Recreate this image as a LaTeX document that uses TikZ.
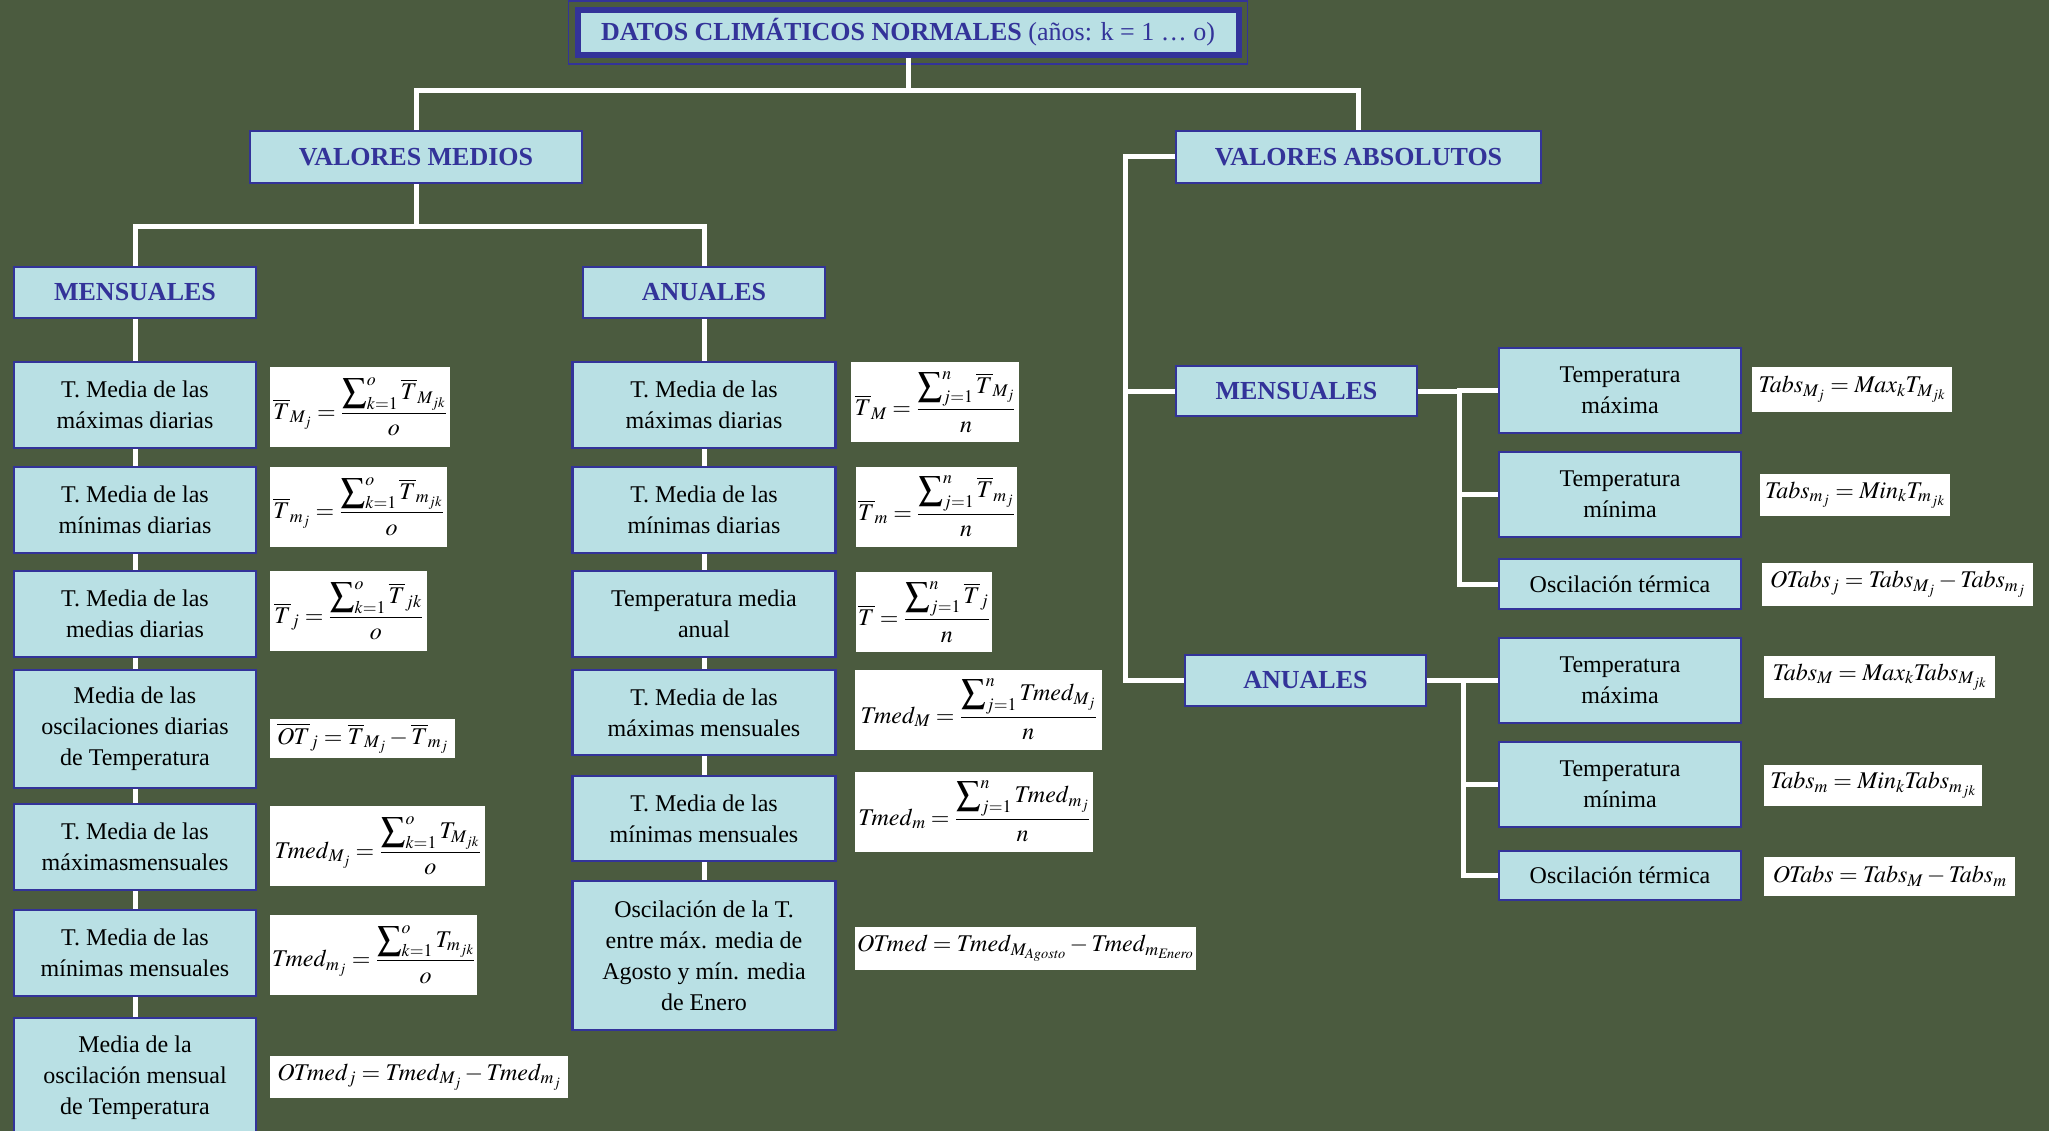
\documentclass[tikz,border=0pt]{standalone}
\usepackage{amsmath}
\usepackage{mathptmx}
\usepackage{fontspec}
\setmainfont{Liberation Serif}
\definecolor{fondo}{RGB}{75,91,63}
\definecolor{celeste}{RGB}{185,224,228}
\definecolor{azul}{RGB}{51,51,153}
\newcommand{\sumk}{\displaystyle\sum\nolimits_{k=1}^{o}}
\newcommand{\sumj}{\displaystyle\sum\nolimits_{j=1}^{n}}

\begin{document}
\begin{tikzpicture}[x=1pt,y=-1pt]
\tikzstyle{enlace}=[white,line width=5pt]
\tikzset{caja/.style={draw=azul,line width=2.5pt,fill=celeste,minimum width=242,minimum height=#1,inner sep=0pt,align=center,font=\fontsize{24}{31}\selectfont},
caja/.default={86},
ancha/.style={caja=#1,minimum width=263},
cabecera/.style={caja=#1,text=azul,font=\fontsize{26}{31}\selectfont\bfseries},
cabecera/.default={51},
formula/.style={fill=white,anchor=west,inner sep=2pt,minimum height=#1,font=\fontsize{24}{28}\selectfont},
formula/.default={80}}
\useasboundingbox (0,0) rectangle (2049,1131);
\fill[fondo] (0,0) rectangle (2049,1131);

% cabeceras
\node[draw=azul,line width=6pt,fill=celeste,minimum width=661,minimum height=45,text=azul,font=\fontsize{26}{31}\selectfont] (titulo) at (908,32.5) {\textbf{DATOS CLIMÁTICOS NORMALES} (años: k = 1 … o)};
\draw[azul,line width=1.2pt] ([shift={(-6,-6)}]titulo.north west) rectangle ([shift={(6,6)}]titulo.south east);
\node[cabecera=52,minimum width=332] (vm) at (416,157) {VALORES MEDIOS};
\node[cabecera=52,minimum width=365] (va) at (1358.5,157) {VALORES ABSOLUTOS};
\node[cabecera] (mens) at (135,292.5) {MENSUALES};
\node[cabecera] (anu) at (704,292.5) {ANUALES};
\node[cabecera=50,minimum width=241] (mr) at (1296.5,391) {MENSUALES};
\node[cabecera,minimum width=241] (ar) at (1305.5,680.5) {ANUALES};

% valores medios mensuales
\node[caja] (l1) at (135,405) {T. Media de las\\máximas diarias};
\node[caja] (l2) at (135,510) {T. Media de las\\mínimas diarias};
\node[caja] (l3) at (135,614) {T. Media de las\\medias diarias};
\node[caja=118] (l4) at (135,729) {Media de las\\oscilaciones diarias\\de Temperatura};
\node[caja] (l5) at (135,847) {T. Media de las\\máximasmensuales};
\node[caja] (l6) at (135,953) {T. Media de las\\mínimas mensuales};
\node[caja=120] (l7) at (135,1078) {Media de la\\oscilación mensual\\de Temperatura};

\node[formula,minimum width=180] (f1) at (270,407) {$\overline{T}_{M_j}=\dfrac{\sumk\overline{T}_{M_{jk}}}{o}$};
\node[formula,minimum width=177] (f2) at (270,506.5) {$\overline{T}_{m_j}=\dfrac{\sumk\overline{T}_{m_{jk}}}{o}$};
\node[formula,minimum width=157] (f3) at (270,611) {$\overline{T}_{j}=\dfrac{\sumk\overline{T}_{jk}}{o}$};
\node[formula=39,minimum width=185] (f4) at (270,738.5) {$\overline{OT}_{j}=\overline{T}_{M_j}-\overline{T}_{m_j}$};
\node[formula,minimum width=215] (f5) at (270,846) {$\mathit{Tmed}_{M_j}=\dfrac{\sumk T_{M_{jk}}}{o}$};
\node[formula,minimum width=207] (f6) at (270,954.5) {$\mathit{Tmed}_{m_j}=\dfrac{\sumk T_{m_{jk}}}{o}$};
\node[formula=42,minimum width=298] (f7) at (270,1077) {$\mathit{OTmed}_j=\mathit{Tmed}_{M_j}-\mathit{Tmed}_{m_j}$};

% valores medios anuales
\node[ancha] (c1) at (704,405) {T. Media de las\\máximas diarias};
\node[ancha] (c2) at (704,510) {T. Media de las\\mínimas diarias};
\node[ancha] (c3) at (704,614) {Temperatura media\\anual};
\node[ancha=85] (c4) at (704,712.5) {T. Media de las\\máximas mensuales};
\node[ancha=85] (c5) at (704,818.5) {T. Media de las\\mínimas mensuales};
\node[ancha=149] (c6) at (704,955.5) {Oscilación de la T.\\entre máx. media de\\Agosto y mín. media\\de Enero};

\node[formula,minimum width=168] (g1) at (851,402) {$\overline{T}_{M}=\dfrac{\sumj\overline{T}_{M_j}}{n}$};
\node[formula,minimum width=159] (g2) at (856,506.5) {$\overline{T}_{m}=\dfrac{\sumj\overline{T}_{m_j}}{n}$};
\node[formula,minimum width=135] (g3) at (856,612) {$\overline{T}=\dfrac{\sumj\overline{T}_{j}}{n}$};
\node[formula,minimum width=247] (g4) at (855,709.5) {$\mathit{Tmed}_{M}=\dfrac{\sumj \mathit{Tmed}_{M_j}}{n}$};
\node[formula,minimum width=238] (g5) at (855,811.5) {$\mathit{Tmed}_{m}=\dfrac{\sumj \mathit{Tmed}_{m_j}}{n}$};
\node[formula=43,minimum width=335] (g6) at (855,948.5) {$\mathit{OTmed}=\mathit{Tmed}_{M_{\mathit{Agosto}}}-\mathit{Tmed}_{m_{\mathit{Enero}}}$};

% valores absolutos
\node[caja=85] (t1) at (1620,390.5) {Temperatura\\máxima};
\node[caja=85] (t2) at (1620,494.5) {Temperatura\\mínima};
\node[caja=50] (t3) at (1620,584) {Oscilación térmica};
\node[caja=85] (a1) at (1620,680.5) {Temperatura\\máxima};
\node[caja=85] (a2) at (1620,784.5) {Temperatura\\mínima};
\node[caja=49] (a3) at (1620,875.5) {Oscilación térmica};

\node[formula=45,minimum width=200] (r1) at (1752,389.5) {$\mathit{Tabs}_{M_j}=\mathit{Max}_k T_{M_{jk}}$};
\node[formula=42,minimum width=190] (r2) at (1760,495) {$\mathit{Tabs}_{m_j}=\mathit{Min}_k T_{m_{jk}}$};
\node[formula=43,minimum width=271] (r3) at (1762,584.5) {$\mathit{OTabs}_j=\mathit{Tabs}_{M_j}-\mathit{Tabs}_{m_j}$};
\node[formula=42,minimum width=231] (r4) at (1764,677) {$\mathit{Tabs}_{M}=\mathit{Max}_k \mathit{Tabs}_{M_{jk}}$};
\node[formula=41,minimum width=218] (r5) at (1764,785.5) {$\mathit{Tabs}_{m}=\mathit{Min}_k \mathit{Tabs}_{m_{jk}}$};
\node[formula=39,minimum width=251] (r6) at (1764,876.5) {$\mathit{OTabs}=\mathit{Tabs}_{M}-\mathit{Tabs}_{m}$};

% enlaces
\draw[enlace] (titulo.south) -- ++(0,33) -| (vm.north);
\draw[enlace] (titulo.south) -- ++(0,33) -| (va.north);
\draw[enlace] (vm.south) -- ++(0,42) -| (mens.north);
\draw[enlace] (vm.south) -- ++(0,42) -| (anu.north);
\foreach \a/\b in {mens/l1,l1/l2,l2/l3,l3/l4,l4/l5,l5/l6,l6/l7,anu/c1,c1/c2,c2/c3,c3/c4,c4/c5,c5/c6}
  \draw[enlace] (\a) -- (\b);
\draw[enlace] (va.west) -- ++(-49,0) |- (mr.west);
\draw[enlace] (va.west) -- ++(-49,0) |- (ar.west);
\foreach \t in {t1,t2,t3}
  \draw[enlace] (mr.east) -- ++(41,0) |- (\t.west);
\foreach \t in {a1,a2,a3}
  \draw[enlace] (ar.east) -- ++(36,0) |- (\t.west);

\end{tikzpicture}
\end{document}
